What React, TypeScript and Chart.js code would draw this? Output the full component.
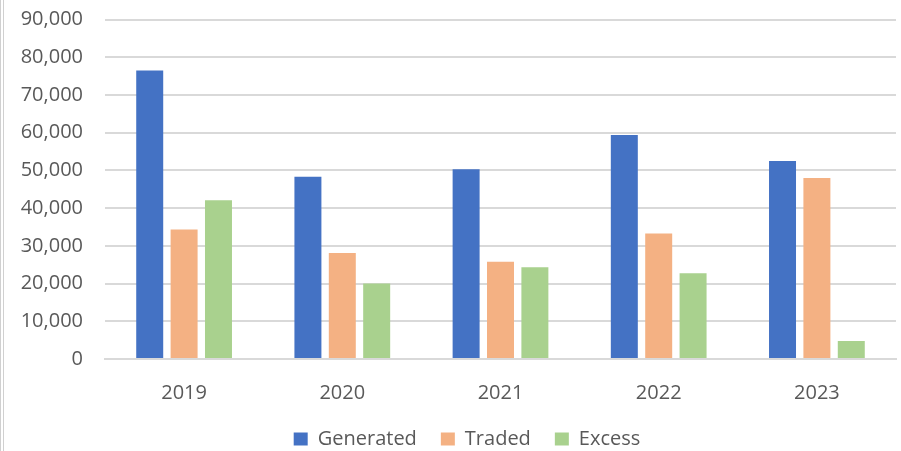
import React, { useEffect, useRef } from "react";
import { Chart, registerables } from "chart.js";

Chart.register(...registerables);

const categories = ["2019", "2020", "2021", "2022", "2023"];
const generated = [76500, 48300, 50300, 59400, 52500];
const traded = [34300, 28100, 25800, 33300, 48000];
const excess = [42100, 20000, 24300, 22700, 4800];
const yTicks = [0, 10000, 20000, 30000, 40000, 50000, 60000, 70000, 80000, 90000];

const FONT = "'Open Sans', 'Noto Sans', sans-serif";

const leftBorder = {
  id: "leftBorder",
  afterLayout(chart: any) {
    if (chart.legend) {
      chart.legend.left += 19;
      chart.legend.right += 19;
    }
  },
  afterDraw(chart: any) {
    const ctx = chart.ctx;
    ctx.save();
    ctx.strokeStyle = "#d0d0d0";
    ctx.lineWidth = 1;
    [0.5, 3.5].forEach((x) => {
      ctx.beginPath();
      ctx.moveTo(x, 0);
      ctx.lineTo(x, chart.height);
      ctx.stroke();
    });
    ctx.restore();
  },
};

export default function App() {
  const ref = useRef<HTMLCanvasElement | null>(null);
  useEffect(() => {
    document.body.style.margin = "0";
    const chart = new Chart(ref.current as HTMLCanvasElement, {
      type: "bar",
      data: {
        labels: categories,
        datasets: [
          { label: "Generated", data: generated, backgroundColor: "#4472C4" },
          { label: "Traded", data: traded, backgroundColor: "#F4B183" },
          { label: "Excess", data: excess, backgroundColor: "#A9D18E" },
        ],
      },
      options: {
        animation: false,
        responsive: false,
        maintainAspectRatio: false,
        datasets: { bar: { categoryPercentage: 0.652, barPercentage: 0.785 } },
        layout: { padding: { top: 19.5, right: 5, bottom: -8, left: 0 } },
        plugins: {
          legend: {
            position: "bottom",
            labels: {
              font: { family: FONT, size: 20 },
              color: "#595959",
              boxWidth: 14,
              boxHeight: 13,
              padding: 24,
            },
          },
          tooltip: { enabled: false },
        },
        scales: {
          x: {
            grid: { display: false },
            border: { display: true, color: "#d9d9d9", width: 2 },
            ticks: { font: { family: FONT, size: 20 }, color: "#595959", padding: 14 },
            afterFit(scale: any) {
              scale.height = 46;
            },
          },
          y: {
            min: 0,
            max: 90000,
            border: { display: false },
            grid: { color: "#d9d9d9", lineWidth: 2, drawTicks: false, tickLength: 0 },
            afterBuildTicks(scale: any) {
              scale.ticks = yTicks.map((v) => ({ value: v }));
            },
            ticks: {
              font: { family: FONT, size: 20 },
              color: "#595959",
              padding: 22,
              callback: (v: any) => Number(v).toLocaleString("en-US"),
            },
            afterFit(scale: any) {
              scale.width = 105;
              scale.paddingTop = 0;
              scale.paddingBottom = 0;
            },
          },
        },
      },
      plugins: [leftBorder],
    });
    return () => chart.destroy();
  }, []);
  return (
    <div style={{ position: "absolute", left: 0, top: 0, width: 901, height: 451 }}>
      <canvas ref={ref} width={901} height={451} style={{ width: 901, height: 451 }} />
    </div>
  );
}
